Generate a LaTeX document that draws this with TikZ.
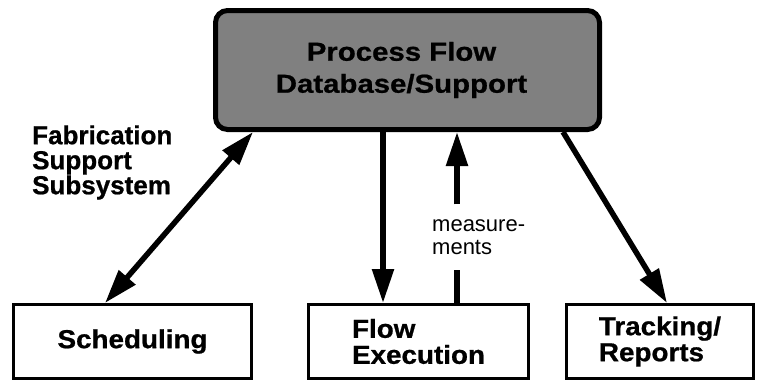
\documentclass[tikz,border=0pt]{standalone}
\usepackage{fontspec}
\setmainfont{Liberation Sans}
\newfontfamily\topfont[FakeStretch=1.13, BoldFeatures={FakeBold=0.8}]{Liberation Sans}
\newfontfamily\lblfont[FakeStretch=1.07, BoldFeatures={FakeBold=0.8}]{Liberation Sans}
\newfontfamily\fabfont[BoldFeatures={FakeBold=0.8}]{Liberation Sans}
\newfontfamily\measfont{Liberation Sans}
\usetikzlibrary{arrows.meta}
\tikzset{
  dbbox/.style={draw, line width=5pt, rounded corners=12pt, fill=black!50,
    minimum width=384pt, minimum height=119pt, align=center, inner sep=0pt,
    font=\topfont\bfseries\fontsize{26}{32}\selectfont},
  subbox/.style={draw, line width=3pt, minimum height=74pt, align=left, inner sep=0pt,
    font=\lblfont\bfseries\fontsize{26}{26}\selectfont},
  title/.style={align=left, inner sep=0pt, font=\fabfont\bfseries\fontsize{26}{25}\selectfont},
  meas/.style={align=left, inner xsep=0pt, inner ysep=15pt, font=\measfont\fontsize{22}{23}\selectfont},
  conn/.style={line width=5.5pt},
  arr/.style={conn, -{Triangle[length=34pt,width=21pt]}},
  darr/.style={conn, {Triangle[length=34pt,width=21pt]}-{Triangle[length=34pt,width=21pt]}}
}
\begin{document}
\begin{tikzpicture}[x=1pt, y=-1pt]
\useasboundingbox (0,0) rectangle (760,383);
\node[dbbox] (db) at (407.5,70) {\hspace*{-12pt}Process Flow\\\hspace*{-12pt}Database/Support};
\node[subbox, minimum width=238pt] (sched) at (132.5,341.5) {Scheduling};
\node[subbox, minimum width=220pt] (flow) at (418.5,341.5) {Flow\\Execution};
\node[subbox, minimum width=187pt] (track) at (660,341.5) {Tracking/\\Reports};
\node[title, anchor=west] (fab) at (32,162.5) {Fabrication\\Support\\Subsystem};
\node[meas, anchor=west] (ms) at (432,237) {measure-\\ments};
% connectors
\coordinate (s1) at ([xshift=40pt]db.south west);
\coordinate (s2) at ([xshift=93pt]sched.north west);
\draw[darr] (s1) -- (s2);
\coordinate (dn) at ([xshift=-35.5pt]flow.north);
\draw[arr] (db.south -| dn) -- (dn);
\coordinate (up) at ([xshift=38.5pt]flow.north);
\draw[conn] (up) -- (ms.south -| up);
\draw[arr] (ms.north -| up) -- (db.south -| up);
\coordinate (t1) at ([xshift=-39pt]db.south east);
\coordinate (t2) at ([xshift=7pt]track.north);
\draw[arr] (t1) -- (t2);
\end{tikzpicture}
\end{document}
